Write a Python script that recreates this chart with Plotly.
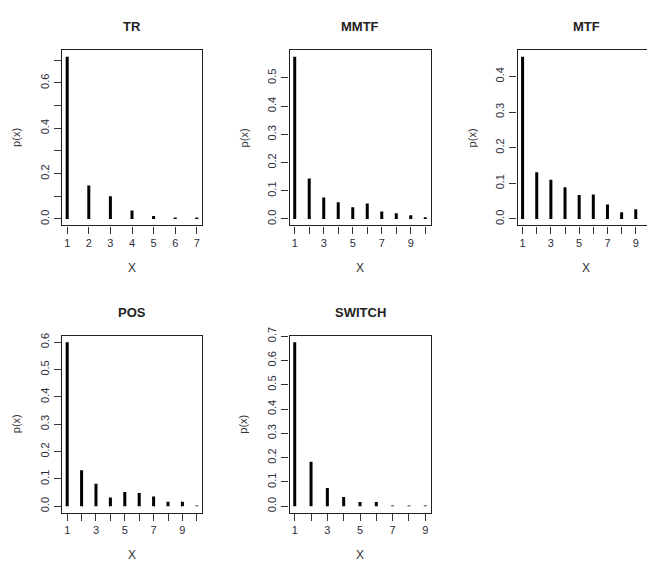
import plotly.graph_objects as go

W, H = 647, 562

titles = ["TR", "MMTF", "MTF", "POS", "SWITCH"]

tr_x = [1, 2, 3, 4, 5, 6, 7]
tr_p = [0.715, 0.148, 0.100, 0.037, 0.013, 0.007, 0.007]

mmtf_x = [1, 2, 3, 4, 5, 6, 7, 8, 9, 10]
mmtf_p = [0.575, 0.144, 0.076, 0.059, 0.042, 0.055, 0.027, 0.020, 0.013, 0.006]

mtf_x = [1, 2, 3, 4, 5, 6, 7, 8, 9, 10]
mtf_p = [0.455, 0.131, 0.110, 0.089, 0.067, 0.069, 0.041, 0.019, 0.027, 0.010]

pos_x = [1, 2, 3, 4, 5, 6, 7, 8, 9, 10]
pos_p = [0.600, 0.132, 0.082, 0.032, 0.052, 0.048, 0.036, 0.016, 0.016, 0.003]

switch_x = [1, 2, 3, 4, 5, 6, 7, 8, 9]
switch_p = [0.675, 0.183, 0.075, 0.038, 0.017, 0.017, 0.003, 0.003, 0.003]

xs = [tr_x, mmtf_x, mtf_x, pos_x, switch_x]
ps = [tr_p, mmtf_p, mtf_p, pos_p, switch_p]

# panel boxes in pixels: left, right, top, bottom
boxes = [
    (62, 202, 42, 220),
    (289.5, 430.5, 42, 220),
    (517.5, 655, 42, 220),
    (62, 202, 332, 512),
    (289.5, 430.5, 332, 512),
]
ystep = [0.1, 0.1, 0.1, 0.1, 0.1]
ylabel_every = [2, 1, 1, 1, 1]

fig = go.Figure()
layout = dict(
    width=W, height=H, margin=dict(l=0, r=0, t=0, b=0),
    paper_bgcolor="white", plot_bgcolor="white", showlegend=False,
    font=dict(family="Liberation Sans, Arial, sans-serif", color="#333"),
)
annotations = []
line_col = "#222"

for i in range(5):
    x, p = xs[i], ps[i]
    L, R, T, B = boxes[i]
    # R-style axis ranges (4% extension)
    xspan = max(x) - min(x)
    x0, x1 = min(x) - 0.04 * xspan, max(x) + 0.04 * xspan
    yspan = max(p)
    y0, y1 = -0.04 * yspan, max(p) + 0.04 * yspan
    # crop to figure edge if panel extends beyond
    if R > W:
        x1 = x0 + (x1 - x0) * (W - L) / (R - L)
        Rc = W
    else:
        Rc = R
    segx, segy = [], []
    for xv, pv in zip(x, p):
        segx += [xv, xv, None]
        segy += [0, pv, None]
    n = "" if i == 0 else str(i + 1)
    fig.add_trace(go.Scatter(x=segx, y=segy, mode="lines",
                             line=dict(color="black", width=3),
                             xaxis="x" + n, yaxis="y" + n, hoverinfo="skip"))
    # ticks
    xt = [v for v in x if x0 <= v <= x1]
    if len(x) > 7:
        xtt = [str(v) if v % 2 == 1 else "" for v in xt]
    else:
        xtt = [str(v) for v in xt]
    ntick = int(y1 / ystep[i] + 1e-9)
    yt = [round(k * ystep[i], 2) for k in range(ntick + 1)]
    ytt = [f"{v:.1f}" if k % ylabel_every[i] == 0 else "" for k, v in enumerate(yt)]
    dom_x = [L / W, Rc / W]
    dom_y = [1 - B / H, 1 - T / H]
    common = dict(showgrid=False, zeroline=False, showline=True, linecolor=line_col,
                  linewidth=1.2, ticks="outside", ticklen=7, tickwidth=1,
                  tickcolor="#333", tickfont=dict(size=11, color="#2e2e3a"))
    layout["xaxis" + n] = dict(domain=dom_x, range=[x0, x1], anchor="y" + n,
                               tickmode="array", tickvals=xt, ticktext=xtt,
                               mirror=True, ticklabelstandoff=0, **common)
    layout["yaxis" + n] = dict(domain=dom_y, range=[y0, y1], anchor="x" + n,
                               tickmode="array", tickvals=yt, ticktext=ytt,
                               tickangle=-90, mirror=(R <= W),
                               ticklabelstandoff=1, **common)
    cx = ((L + R) / 2) / W
    annotations.append(dict(text="<b>" + titles[i] + "</b>", x=cx, y=1 - (T - 24) / H,
                            xref="paper", yref="paper", showarrow=False,
                            font=dict(size=13, color="#222"),
                            xanchor="center", yanchor="middle"))
    annotations.append(dict(text="X", x=cx, y=1 - (B + 43) / H, xref="paper", yref="paper",
                            showarrow=False, font=dict(size=12, color="#333"),
                            xanchor="center", yanchor="middle"))
    annotations.append(dict(text="p(x)", x=(L - 46) / W, y=1 - ((T + B) / 2) / H,
                            xref="paper", yref="paper", showarrow=False, textangle=-90,
                            font=dict(size=11, color="#333"),
                            xanchor="center", yanchor="middle"))

layout["annotations"] = annotations
fig.update_layout(**layout)
fig.write_html("out.html")
